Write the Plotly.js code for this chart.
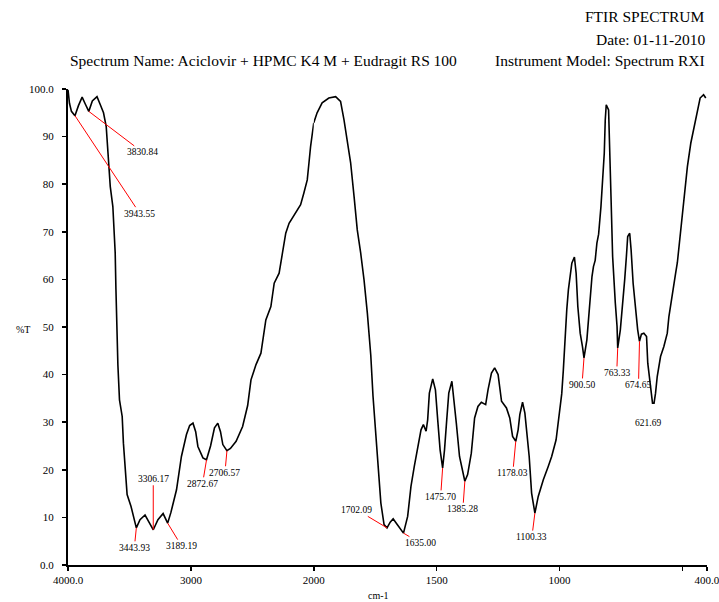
<!DOCTYPE html>
<html>
<head>
<meta charset="utf-8">
<script src="https://cdn.plot.ly/plotly-3.0.1.min.js"></script>
<style>html,body{margin:0;padding:0;background:#fff;}#chart{width:719px;height:602px;}</style>
</head>
<body>
<div id="chart"></div>
<script>
// Spectrum, high-wavenumber part (4000-2000 cm-1)
const wnHigh = [4000,3988,3972,3943.5,3915,3885,3858.5,3831,3802,3764,3737,3711,3689,3675,3656,3635,3616,3610,3602,3594,3581,3559,3549,3529.5,3519,3487,3466,3444,3414,3373,3341,3306,3268,3226,3189,3163,3117,3077,3036,3010,2983,2961,2943,2902,2873,2840,2808,2781,2759,2740,2707,2678,2632,2579,2538,2511,2470,2430,2390,2349,2322,2282,2255,2228,2201,2147,2107,2080,2053,2039,2026,2000];
const tHigh  = [99.8,97,95.3,94.4,96.5,98.3,96.8,95.3,97.5,98.4,96.7,95,92.1,87.2,79.5,75.3,65.6,58,49,42,34.7,31.2,25.6,19.3,14.8,12.3,10,7.8,9.5,10.5,9,7.4,9.5,10.8,8.8,11,15.8,22.8,27.4,29.3,29.8,28,24.9,22.5,22.1,25,28.8,29.8,28,25.3,24.0,24.5,26,29.1,33.5,38.9,42.1,44.5,51.5,54.3,59.2,61.3,65.5,69.7,71.8,74,75.7,78.2,80.9,84.5,87.9,92.9];
// Spectrum, low-wavenumber part (2000-400 cm-1)
const wnLow = [2000,1986.5,1966,1938.7,1911,1891,1877,1864,1850,1836,1823,1809,1795.5,1782,1768,1759,1747.6,1737,1727,1714,1702,1689,1677,1660.5,1635,1618,1604.5,1591,1577.5,1563.6,1554,1543,1536.6,1529.7,1516,1505,1495.7,1486,1475.7,1468,1459,1450.7,1438,1427,1420,1407,1385.3,1374,1359,1345.6,1332,1318,1300.6,1291,1277,1264,1250,1236,1216,1202.5,1191,1178,1168.5,1161.6,1150.5,1141,1131.7,1123.5,1113.7,1100.3,1086.7,1066,1046,1032,1014,1001,991,984.5,977.5,970.6,964,957,950,939.5,932.5,925.6,916,906.7,900.5,888.8,882,875,868,862,855,848,841,831.5,823,818,814,810,800.4,796,790.6,784,780,773,766,763.3,752.6,743,735,728,722.7,714.5,708.8,700.6,691,682,674.7,666.7,657,646,641,630,621.7,615.5,609.4,602.5,589,575.5,561.6,555,541,527.6,520.7,507,493.7,479.8,466,452.8,439,428,414,405];
const tLow  = [92.9,95,97.1,98.1,98.4,97.4,93.5,89.3,84.5,77.4,70.4,65.5,59.9,52.9,44,35.5,27.7,20,13,8.5,7.8,9,9.7,8.5,6.7,10.2,16.5,20.7,24.9,28.4,29.5,28.1,30.5,36.1,39.1,36.8,30.5,24.2,20.4,24.2,30.5,36.1,38.6,34,29.8,22.8,17.6,19,23.5,30.9,33.3,34.2,33.7,36.8,40.3,41.4,40,34.4,33,30.9,27,26,28.4,31.6,34.2,31.9,27.4,22.8,15.1,10.9,14.4,17.9,20.7,22.8,26.3,32.6,36,41,48,53.6,57.8,61.3,63.4,64.7,61.3,54.3,48.7,45.9,43.5,47.3,51.5,57,60.6,62.7,64,67.6,69.5,75.3,83,86.5,93.5,96.7,95.6,89.3,77.4,64.8,59.9,55,50.1,45.6,49.4,54.3,59.9,64.8,69,69.7,66.2,59.2,53.6,49.4,47,48.5,48.7,48,42.4,37.5,34,34,36.1,39.6,43.8,45.9,48.7,52.2,56.4,61.3,63.5,70,77.4,83.7,88.6,92.1,95.7,98.1,98.8,98.1];
// Peak labels
const peakWn   = [3943.55,3830.84,3443.93,3306.17,3189.19,2872.67,2706.57,1702.09,1635.00,1475.70,1385.28,1178.03,1100.33,900.50,763.33,674.65,621.69];
const peakT    = [94.4,95.3,7.8,7.4,8.8,22.1,24.0,7.8,6.7,20.4,17.6,26,10.9,43.5,45.6,47,34];
const peakText = ["3943.55","3830.84","3443.93","3306.17","3189.19","2872.67","2706.57","1702.09","1635.00","1475.70","1385.28","1178.03","1100.33","900.50","763.33","674.65","621.69"];
// Axis ticks
const yTickVals = [0,10,20,30,40,50,60,70,80,90,100];
const yTickText = ["0.0","10","20","30","40","50","60","70","80","90","100.0"];
const xHighTickVals = [4000,3000,2000];
const xHighTickText = ["4000.0","3000","2000"];
const xLowTickVals = [1500,1000,500,400];
const xLowTickText = ["1500","1000","","400.0"];

// label offsets (pixels) - styling only
const labelOffsets = [[65,98],[54,41],[-2,20],[0,-51],[14,23],[-4,24],[-2,22],[-30,-18],[17,10],[-2,29],[-2,28],[-3,32],[-3,24],[-2,27],[-1,25],[-1,44],[-5,20]];
const labelLine = [true,true,true,true,true,true,true,true,true,true,true,true,true,true,true,true,false];

const FONT = "Liberation Serif, Times New Roman, serif";
const split = 2000/(2000+1600*2);

const traces = [
  {x: wnHigh, y: tHigh, xaxis:'x', yaxis:'y', type:'scatter', mode:'lines', line:{color:'#000', width:1.6}, hoverinfo:'skip'},
  {x: wnLow, y: tLow, xaxis:'x2', yaxis:'y', type:'scatter', mode:'lines', line:{color:'#000', width:1.6}, hoverinfo:'skip'}
];

const annotations = peakWn.map((w,i)=>({
  x: w, y: peakT[i], xref: w >= 2000 ? 'x' : 'x2', yref:'y',
  text: peakText[i], showarrow: true, arrowhead: 0, arrowwidth: 1,
  arrowcolor: labelLine[i] ? '#ff0000' : 'rgba(0,0,0,0)',
  ax: labelOffsets[i][0], ay: labelOffsets[i][1],
  font:{family:FONT, size:9.5, color:'#000'}
}));

annotations.push(
  {xref:'paper', yref:'paper', x:1.0, y:1.152, xanchor:'right', yanchor:'middle', showarrow:false, text:'FTIR SPECTRUM', font:{family:FONT, size:15.5, color:'#000'}},
  {xref:'paper', yref:'paper', x:1.0, y:1.104, xanchor:'right', yanchor:'middle', showarrow:false, text:'Date: 01-11-2010', font:{family:FONT, size:15.5, color:'#000'}},
  {xref:'paper', yref:'paper', x:0.0, y:1.059, xanchor:'left', yanchor:'middle', showarrow:false, text:'Spectrum Name: Aciclovir + HPMC K4 M + Eudragit RS 100', font:{family:FONT, size:15.5, color:'#000'}},
  {xref:'paper', yref:'paper', x:1.0, y:1.059, xanchor:'right', yanchor:'middle', showarrow:false, text:'Instrument Model: Spectrum RXI', font:{family:FONT, size:15.5, color:'#000'}},
  {xref:'paper', yref:'paper', x:-0.071, y:0.494, xanchor:'center', yanchor:'middle', showarrow:false, text:'%T', font:{family:FONT, size:10, color:'#000'}},
  {xref:'paper', yref:'paper', x:0.486, y:-0.064, xanchor:'center', yanchor:'middle', showarrow:false, text:'cm-1', font:{family:FONT, size:10, color:'#000'}}
);

const axisCommon = {showline:true, linecolor:'#000', linewidth:2, ticks:'outside', ticklen:4, tickwidth:1.5, tickcolor:'#000', showgrid:false, zeroline:false, tickmode:'array', tickfont:{family:FONT, size:11, color:'#000'}, fixedrange:true, ticklabeloverflow:'allow'};

const layout = {
  width:719, height:602,
  margin:{l:67.5, r:12.3, t:89.3, b:36.7},
  paper_bgcolor:'#fff', plot_bgcolor:'#fff',
  showlegend:false,
  xaxis: Object.assign({}, axisCommon, {domain:[0, split], range:[4000,2000], tickvals:xHighTickVals, ticktext:xHighTickText, anchor:'y'}),
  xaxis2: Object.assign({}, axisCommon, {domain:[split, 1], range:[2000,400], tickvals:xLowTickVals, ticktext:xLowTickText, anchor:'y'}),
  yaxis: Object.assign({}, axisCommon, {range:[0,100], tickvals:yTickVals, ticktext:yTickText, anchor:'x', ticklabelstandoff:6}),
  annotations: annotations
};

Plotly.newPlot('chart', traces, layout, {displayModeBar:false, staticPlot:true});
</script>
</body>
</html>
